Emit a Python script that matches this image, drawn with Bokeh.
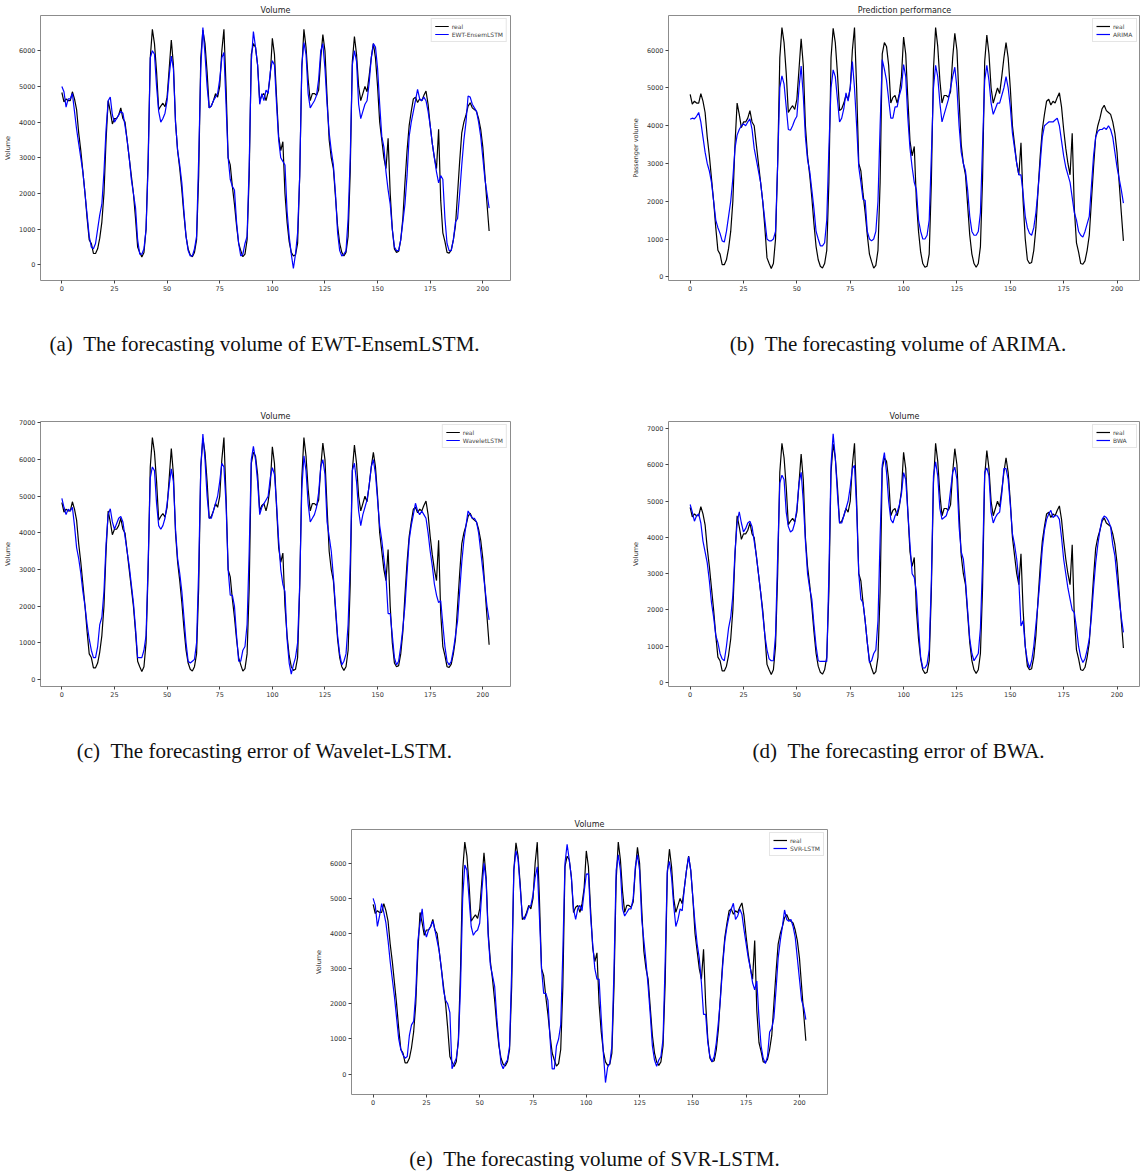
from bokeh.plotting import figure
from bokeh.models import Range1d, FixedTicker, Spacer, Legend, LegendItem
from bokeh.layouts import column, row
from bokeh.core.properties import value
from bokeh.embed import file_html
from bokeh.resources import INLINE

x_index = list(range(204))

real = [
    4830, 4570, 4650, 4600, 4600, 4850, 4650, 4350, 3700, 3200,
    2600, 2000, 1300, 700, 600, 320, 320, 450, 750, 1200,
    2000, 3500, 4600, 4300, 3950, 4100, 4100, 4200, 4400, 4100,
    4000, 3500, 3000, 2500, 2000, 1300, 500, 350, 220, 350,
    1000, 3000, 5800, 6600, 6200, 5400, 4350, 4450, 4530, 4430,
    4700, 5500, 6300, 5600, 4000, 3200, 2700, 2100, 1400, 800,
    450, 280, 230, 350, 700, 2500, 5800, 6580, 6200, 5400,
    4400, 4450, 4600, 4800, 4700, 5000, 6000, 6600, 5000, 3000,
    2800, 2200, 1700, 1100, 600, 400, 230, 300, 700, 2500,
    5900, 6200, 6100, 5600, 4600, 4750, 4800, 4600, 4850, 5300,
    6350, 5900, 4700, 3600, 3200, 3450, 2000, 1200, 650, 350,
    250, 280, 600, 2500, 5500, 6600, 6100, 5200, 4600, 4800,
    4800, 4750, 4900, 5800, 6450, 6000, 4700, 3500, 3000, 2700,
    1900, 1100, 600, 350, 250, 350, 800, 2600, 5700, 6400,
    5900, 5000, 4600, 4800, 5000, 4850, 5300, 5800, 6200, 5800,
    5000, 4000, 3500, 3000, 2700, 3550, 2000, 1000, 450, 350,
    380, 700, 1300, 2300, 3200, 3900, 4300, 4650, 4700, 4550,
    4650, 4600, 4750, 4870, 4500, 3900, 3400, 3000, 2700, 3800,
    1800, 900, 650, 350, 330, 420, 700, 1100, 2000, 2900,
    3700, 4000, 4200, 4450, 4540, 4400, 4350, 4300, 4100, 3800,
    3300, 2500, 1700, 950,
]

ewt_ensemlstm = [
    5000, 4850, 4420, 4650, 4650, 4800, 4300, 3800, 3400, 3000,
    2600, 2000, 1400, 800, 500, 450, 600, 1000, 1400, 1700,
    2600, 3800, 4600, 4700, 4200, 4000, 4100, 4200, 4300, 4250,
    3900, 3500, 3000, 2400, 2000, 1600, 700, 300, 300, 450,
    1000, 2800, 5800, 6000, 5900, 5000, 4300, 4000, 4100, 4250,
    4600, 5300, 5850, 5500, 4000, 3200, 2800, 2300, 1500, 800,
    400, 250, 250, 450, 800, 3000, 5500, 6650, 5900, 5000,
    4400, 4450, 4600, 4700, 4800, 5200, 5800, 5950, 4500, 3000,
    2400, 2200, 2100, 1200, 600, 250, 300, 600, 800, 2800,
    5700, 6540, 6100, 5600, 4500, 4800, 4600, 4900, 4800, 5400,
    5720, 5600, 4500, 3500, 3000, 2900, 2800, 1500, 800, 300,
    -100, 300, 900, 2500, 5600, 6230, 5900, 4800, 4400, 4500,
    4600, 4750, 5200, 6000, 6200, 5500, 4500, 3700, 3200, 2800,
    2000, 900, 400, 250, 300, 400, 1300, 3000, 5600, 6000,
    5700, 4500, 4100, 4300, 4500, 4600, 5100, 5800, 6200, 6100,
    5500, 4500, 3600, 3300, 2600, 2100, 1700, 1000, 500, 400,
    400, 700, 1200, 1700, 2500, 3600, 4000, 4300, 4600, 4920,
    4650, 4600, 4700, 4600, 4300, 3900, 3400, 3000, 2600, 2300,
    2500, 2400, 1300, 600, 400, 400, 700, 1200, 1300, 2000,
    2800, 3500, 4000, 4730, 4700, 4500, 4400, 4300, 4000, 3600,
    3000, 2400, 2000, 1590,
]

arima = [
    4170, 4200, 4180, 4250, 4350, 4100, 3700, 3300, 3000, 2800,
    2500, 2000, 1500, 1300, 1150, 950, 920, 1200, 1600, 2000,
    2600, 3400, 3750, 3900, 4000, 4050, 4000, 4100, 4180, 3900,
    3400, 3100, 2800, 2500, 2000, 1500, 1000, 950, 950, 1000,
    1200, 3000, 5000, 5320, 5100, 4500, 3900, 3880, 4000, 4150,
    4250, 5000, 5580, 4800, 3700, 3100, 2800, 2300, 1800, 1200,
    1000, 820, 820, 900, 1500, 3400, 5000, 5480, 5300, 4700,
    4100, 4200, 4450, 4870, 4650, 5000, 5700, 5000, 4000, 2900,
    2500, 2050, 2020, 1200, 1000, 950, 1000, 1200, 2000, 4000,
    5750, 5500, 5200, 4700, 4200, 4200, 4500, 4500, 4800, 5000,
    5620, 5300, 4200, 3400, 2900, 2500, 2300, 1500, 1200, 1000,
    1000, 1100, 1500, 3200, 5000, 5600, 5300, 4600, 4100, 4300,
    4500, 4700, 5000, 5300, 5550, 5000, 4000, 3300, 3000, 2800,
    2300, 1600, 1200, 1100, 1100, 1200, 1700, 3500, 5200, 5600,
    5200, 4600, 4300, 4450, 4600, 4600, 4800, 5000, 5300, 5000,
    4500, 3800, 3400, 3000, 2700, 2700, 2200, 1600, 1300, 1150,
    1100, 1300, 1700, 2300, 3000, 3700, 4000, 4050, 4100, 4100,
    4100, 4150, 4200, 4000, 3600, 3200, 2900, 2700, 2500, 2100,
    1700, 1500, 1200, 1100, 1050, 1200, 1400, 1600, 2400, 3200,
    3700, 3850, 3900, 3900, 3950, 3900, 4000, 3900, 3700, 3300,
    2900, 2600, 2300, 1950,
]

wavelet_lstm = [
    4940, 4700, 4500, 4650, 4600, 4700, 4200, 3600, 3300, 2900,
    2400, 2000, 1500, 1100, 800, 600, 600, 900, 1500, 1700,
    2400, 3700, 4500, 4660, 4300, 4100, 4250, 4400, 4450, 4300,
    3900, 3500, 3100, 2600, 2100, 1400, 600, 600, 600, 800,
    1200, 3200, 5500, 5800, 5700, 4800, 4200, 4100, 4200, 4400,
    4800, 5300, 5750, 5400, 4100, 3300, 2900, 2400, 1700, 1000,
    500, 450, 500, 550, 1000, 3000, 5800, 6700, 6000, 5000,
    4400, 4400, 4600, 4800, 5000, 5400, 5900, 5800, 4800, 3000,
    2300, 2300, 2000, 1200, 500, 500, 800, 900, 1500, 3500,
    6000, 6360, 6000, 5400, 4500, 4700, 4800, 4900, 5000, 5500,
    5780, 5600, 4800, 3800, 3000, 2600, 2400, 1100, 450, 150,
    400, 600, 1000, 2600, 5200, 6100, 5700, 4800, 4300, 4400,
    4500, 4700, 5100, 5800, 6000, 5600, 4300, 3900, 3500, 2800,
    2000, 1200, 700, 400, 500, 700, 1500, 3200, 5700, 5900,
    5400, 4600, 4200, 4500, 4700, 4900, 5300, 5800, 6000, 5600,
    4900, 4200, 3800, 3300, 2800, 1800, 1800, 1200, 600, 400,
    500, 900, 1400, 2000, 2900, 3800, 4200, 4500, 4810, 4600,
    4500, 4600, 4500, 4400, 4000, 3500, 3100, 2600, 2300, 2100,
    2150, 1500, 900, 500, 400, 500, 800, 1200, 1600, 2400,
    3200, 3800, 4200, 4600, 4500, 4400, 4400, 4300, 4000, 3500,
    3000, 2500, 2000, 1630,
]

bwa = [
    4910, 4700, 4450, 4600, 4650, 4400, 3900, 3600, 3300, 2800,
    2200, 1800, 1300, 1100, 800, 650, 600, 1000, 1500, 1800,
    2400, 3600, 4400, 4710, 4400, 4150, 4250, 4400, 4450, 4300,
    3900, 3500, 3000, 2500, 1900, 1300, 900, 650, 600, 600,
    1300, 3500, 5500, 5720, 5600, 4700, 4300, 4150, 4200, 4400,
    4800, 5500, 5800, 5000, 3900, 3000, 2600, 2300, 1600, 1000,
    600, 580, 580, 580, 580, 3000, 6000, 6860, 6200, 5200,
    4400, 4400, 4600, 4800, 5000, 5400, 5900, 5990, 4800, 3000,
    2300, 2200, 1700, 1100, 550, 600, 800, 900, 1700, 4000,
    6000, 6340, 5800, 5000, 4500, 4400, 4600, 4700, 4900, 5200,
    5790, 5600, 4700, 3800, 3000, 2900, 2500, 1500, 700, 400,
    400, 500, 900, 2800, 5700, 6090, 5700, 4800, 4500, 4550,
    4600, 4800, 5300, 5800, 5940, 5600, 4300, 3600, 3400, 2800,
    2000, 1200, 800, 600, 700, 800, 1500, 3300, 5800, 5920,
    5700, 4700, 4400, 4550, 4650, 4700, 5200, 5900, 5900, 5600,
    4900, 4100, 3800, 3400, 2800, 1560, 1700, 1000, 600, 400,
    600, 1000, 1600, 2200, 2900, 3700, 4200, 4500, 4650, 4750,
    4550, 4600, 4600, 4500, 4000, 3400, 3000, 2600, 2300, 2000,
    1930, 1500, 1000, 700, 550, 650, 900, 1200, 1800, 2600,
    3300, 3800, 4200, 4500, 4590, 4550, 4450, 4300, 3800, 3500,
    2900, 2300, 1800, 1380,
]

svr_lstm = [
    5000, 4800, 4200, 4500, 4850, 4600, 4300, 3800, 3200, 2700,
    2200, 1600, 1000, 700, 550, 450, 500, 1100, 1400, 1500,
    2300, 3800, 4300, 4700, 4100, 3900, 4100, 4200, 4350, 4100,
    3800, 3500, 3000, 2400, 2100, 2000, 1750, 150, 300, 450,
    900, 2500, 5000, 5950, 5800, 5000, 4200, 3950, 4050, 4100,
    4300, 5200, 6000, 5500, 3900, 3100, 2800, 2500, 1600, 900,
    300, 150, 300, 400, 800, 3000, 5800, 6350, 6100, 5300,
    4500, 4400, 4550, 4750, 4800, 5100, 5600, 5900, 4500, 3000,
    2300, 2300, 2100, 1000, 150, 150, 800, 1000, 1400, 3500,
    6000, 6540, 6100, 5600, 4700, 4400, 4700, 4800, 4650, 5200,
    5690, 5700, 4500, 3700, 3000, 2700, 2700, 1600, 600, -240,
    200, 300, 800, 3000, 5800, 6240, 5800, 4700, 4500, 4600,
    4700, 4700, 5000, 5900, 6240, 5800, 4400, 3800, 3200, 2500,
    1700, 800, 400, 220, 400, 500, 1000, 3200, 5800, 6050,
    5600, 4800, 4200, 4400, 4700, 4650, 5300, 5800, 6190, 5800,
    5000, 4300, 3700, 3300, 2600, 1700, 1700, 900, 500, 350,
    500, 900, 1500, 2200, 3100, 3800, 4200, 4500, 4700, 4860,
    4400, 4500, 4700, 4550, 4100, 3700, 3300, 3000, 2600, 2400,
    2650, 1600, 800, 450, 300, 500, 1200, 1300, 1600, 2400,
    3300, 3800, 4200, 4670, 4400, 4350, 4400, 4200, 3900, 3300,
    2700, 2100, 1900, 1550,
]

x_ticks = [0, 25, 50, 75, 100, 125, 150, 175, 200]
y_ticks_6 = [0, 1000, 2000, 3000, 4000, 5000, 6000]
y_ticks_7 = [0, 1000, 2000, 3000, 4000, 5000, 6000, 7000]

NB = "\u00a0"
captions_row1 = ["(a)" + NB + NB + "The forecasting volume of EWT-EnsemLSTM.",
                 "(b)" + NB + NB + "The forecasting volume of ARIMA."]
captions_row2 = ["(c)" + NB + NB + "The forecasting error of Wavelet-LSTM.",
                 "(d)" + NB + NB + "The forecasting error of BWA."]
captions_row3 = ["(e)" + NB + NB + "The forecasting volume of SVR-LSTM."]


def panel(pred, pred_label, title, ylabel, x_end, y_range, y_ticks, width, height,
          b_left, b_right, b_top, b_bottom):
    p = figure(width=width, height=height, output_backend="svg", toolbar_location=None,
               x_range=Range1d(-10.15, x_end), y_range=Range1d(*y_range),
               min_border_left=b_left, min_border_right=b_right,
               min_border_top=b_top, min_border_bottom=b_bottom)
    p.title.text = title
    p.title.align = "center"
    p.title.text_font = "DejaVu Sans"
    p.title.text_font_size = "8px"
    p.title.text_font_style = "normal"
    p.title.text_color = "#222222"
    p.title.standoff = 2
    p.grid.visible = False
    p.outline_line_color = "#8c8c8c"
    p.outline_line_width = 1
    r1 = p.line(x_index, real, color="black", line_width=1.2)
    r2 = p.line(x_index, pred, color="blue", line_width=1.2)
    for ax in (p.xaxis[0], p.yaxis[0]):
        ax.axis_line_color = None
        ax.major_tick_in = 0
        ax.major_tick_out = 3
        ax.minor_tick_line_color = None
        ax.major_tick_line_color = "#444444"
        ax.major_label_text_font = "DejaVu Sans"
        ax.major_label_text_font_size = "6.5px"
        ax.major_label_text_color = "#333333"
        ax.major_label_standoff = 2
    p.xaxis[0].ticker = FixedTicker(ticks=x_ticks)
    p.yaxis[0].ticker = FixedTicker(ticks=y_ticks)
    p.yaxis[0].axis_label = ylabel
    p.yaxis[0].axis_label_text_font = "DejaVu Sans"
    p.yaxis[0].axis_label_text_font_size = "6.5px"
    p.yaxis[0].axis_label_text_font_style = "normal"
    p.yaxis[0].axis_label_text_color = "#333333"
    p.yaxis[0].axis_label_standoff = 4
    legend = Legend(items=[LegendItem(label="real", renderers=[r1]),
                           LegendItem(label=pred_label, renderers=[r2])],
                    location="top_right")
    legend.label_text_font = "DejaVu Sans"
    legend.label_text_font_size = "6px"
    legend.label_height = 8
    legend.glyph_height = 8
    legend.glyph_width = 14
    legend.label_standoff = 3
    legend.spacing = 0
    legend.padding = 3
    legend.margin = 3
    legend.border_line_color = "#cccccc"
    legend.background_fill_alpha = 0.8
    p.add_layout(legend)
    return p


def caption_strip(texts, centers, height, text_y):
    c = figure(width=1140, height=height, output_backend="svg", toolbar_location=None,
               x_range=Range1d(0, 1140), y_range=Range1d(0, height),
               x_axis_type=None, y_axis_type=None,
               min_border_left=0, min_border_right=0, min_border_top=0, min_border_bottom=0)
    c.grid.visible = False
    c.outline_line_color = None
    c.text(x=centers, y=[text_y] * len(texts), text=texts,
           text_font=value("Liberation Serif"), text_font_size="21px",
           text_align="center", text_baseline="middle", text_color="#111111")
    return c


fa = panel(ewt_ensemlstm, "EWT-EnsemLSTM", "Volume", "Volume", 213.15,
           (-437, 6987), y_ticks_6, 628, 300, 37, 118, 15, 20)
fb = panel(arima, "ARIMA", "Prediction performance", "Passenger volume", 211.0,
           (-99, 6919), y_ticks_6, 512, 300, 40, 0, 15, 20)
fc = panel(wavelet_lstm, "WaveletLSTM", "Volume", "Volume", 213.15,
           (-190, 7040), y_ticks_7, 628, 300, 35, 118, 16, 19)
fd = panel(bwa, "BWA", "Volume", "Volume", 211.0,
           (-111, 7200), y_ticks_7, 512, 300, 40, 0, 16, 19)
fe = panel(svr_lstm, "SVR-LSTM", "Volume", "Volume", 213.15,
           (-580, 6960), y_ticks_6, 540, 300, 40, 24, 14, 21)

cap1 = caption_strip(captions_row1, [264, 898], 105, 62)
cap2 = caption_strip(captions_row2, [264, 898], 110, 65)
cap3 = caption_strip(captions_row3, [594], 56, 13)

layout = column(row(fa, fb), cap1, row(fc, fd), cap2,
                row(Spacer(width=311, height=300), fe), cap3)

open("out.html", "w").write(file_html(layout, INLINE))
